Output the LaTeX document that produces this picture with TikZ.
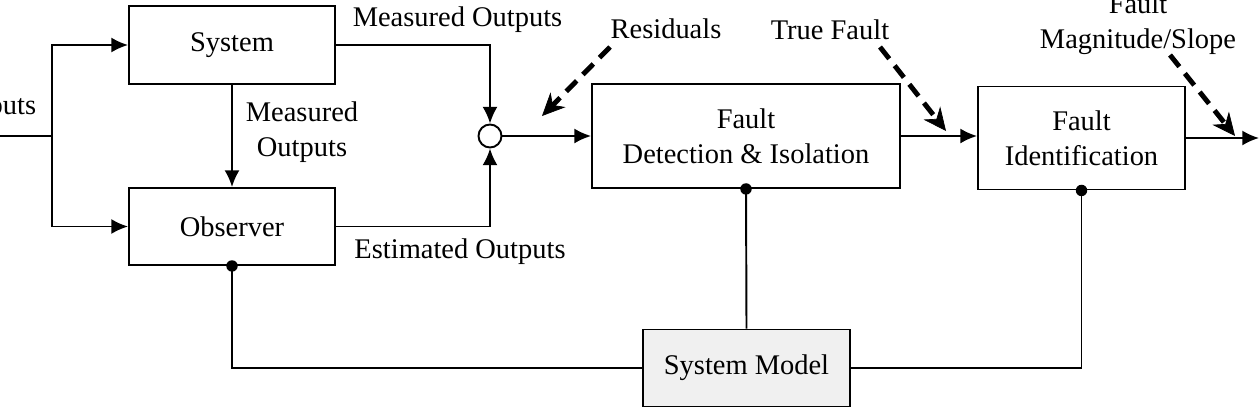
\documentclass[tikz,border=0pt]{standalone}
\usepackage{fontspec}
\setmainfont{Liberation Serif}
\usetikzlibrary{arrows.meta}

\begin{document}
\begin{tikzpicture}[x=0.02cm, y=-0.02cm, line width=1.1pt, >={Latex[length=9.5pt,width=8.5pt]},%
        every node/.style={font=\fontsize{16.2}{19.8}\selectfont, align=center},
        blk/.style={draw, rectangle, inner sep=0pt}, model/.style={blk, fill=gray!12},
        sumnode/.style={draw, circle, minimum size=0.46cm, inner sep=0pt},
        dot/.style={circle, fill, minimum size=6.5pt, inner sep=0pt},
        dasharrow/.style={line width=2.8pt, dash pattern=on 8.5pt off 5pt, -{Stealth[length=13pt,width=12pt,line width=0.4pt]}}]
        \useasboundingbox (0,0) rectangle (1260,419);
        % blocks
        \node[blk, minimum width=4.12cm, minimum height=1.56cm] (sys) at (232,45) {System};
        \node[blk, minimum width=4.12cm, minimum height=1.54cm] (obs) at (232,226.5) {Observer};
        \node[sumnode] (sum) at (490,136) {};
        \node[blk, minimum width=6.16cm, minimum height=2.08cm] (fdi) at (746,136) {Fault\\Detection \& Isolation};
        \node[blk, minimum width=4.14cm, minimum height=2.06cm] (fi) at (1081.5,138) {Fault\\Identification};
        \node[model, minimum width=4.14cm, minimum height=1.54cm] (sm) at (746.5,368) {System Model};
        % labels
        \node[anchor=east] (inlbl) at (43,108) {Inputs};
        \node (mo) at (457.5,20) {Measured Outputs};
        \node (mo2) at (302,132) {Measured\\Outputs};
        \node (eo) at (460,252) {Estimated Outputs};
        \node (res) at (666,29) {Residuals};
        \node (tf) at (830,30) {True Fault};
        \node (mag) at (1138,24.5) {Fault\\Magnitude/Slope};
        % inputs
        \coordinate (in) at (0,136);
        \coordinate (split) at (52,136);
        \draw (in) -- (split);
        \draw[->] (split) |- (sys.west);
        \draw[->] (split) |- (obs.west);
        \draw[->] (sys.south) -- (obs.north);
        % residual generation
        \draw[->] (sys.east) -| (sum.north);
        \draw[->] (obs.east) -| (sum.south);
        \draw[->] (sum.east) -- (fdi.west);
        \draw[->] (fdi.east) -- (fdi.east -| fi.west);
        \coordinate (out) at (1259,138);
        \draw[->] (fi.east) -- (out);
        % model links
        \draw (obs.south) |- (sm.west);
        \draw (fdi.south) -- (sm.north);
        \draw (fi.south) |- (sm.east);
        \node[dot] (obsdot) at (obs.south) {};
        \node[dot] (fdidot) at (fdi.south) {};
        \node[dot] (fidot) at (fi.south) {};
        % dashed pointers
        \coordinate (r1) at (610,47);   \coordinate (r2) at (542,116);
        \coordinate (t1) at (880,47);   \coordinate (t2) at (946,131);
        \coordinate (m1) at (1170,55);  \coordinate (m2) at (1235,136);
        \draw[dasharrow] (r1) -- (r2);
        \draw[dasharrow] (t1) -- (t2);
        \draw[dasharrow] (m1) -- (m2);
\end{tikzpicture}
\end{document}
